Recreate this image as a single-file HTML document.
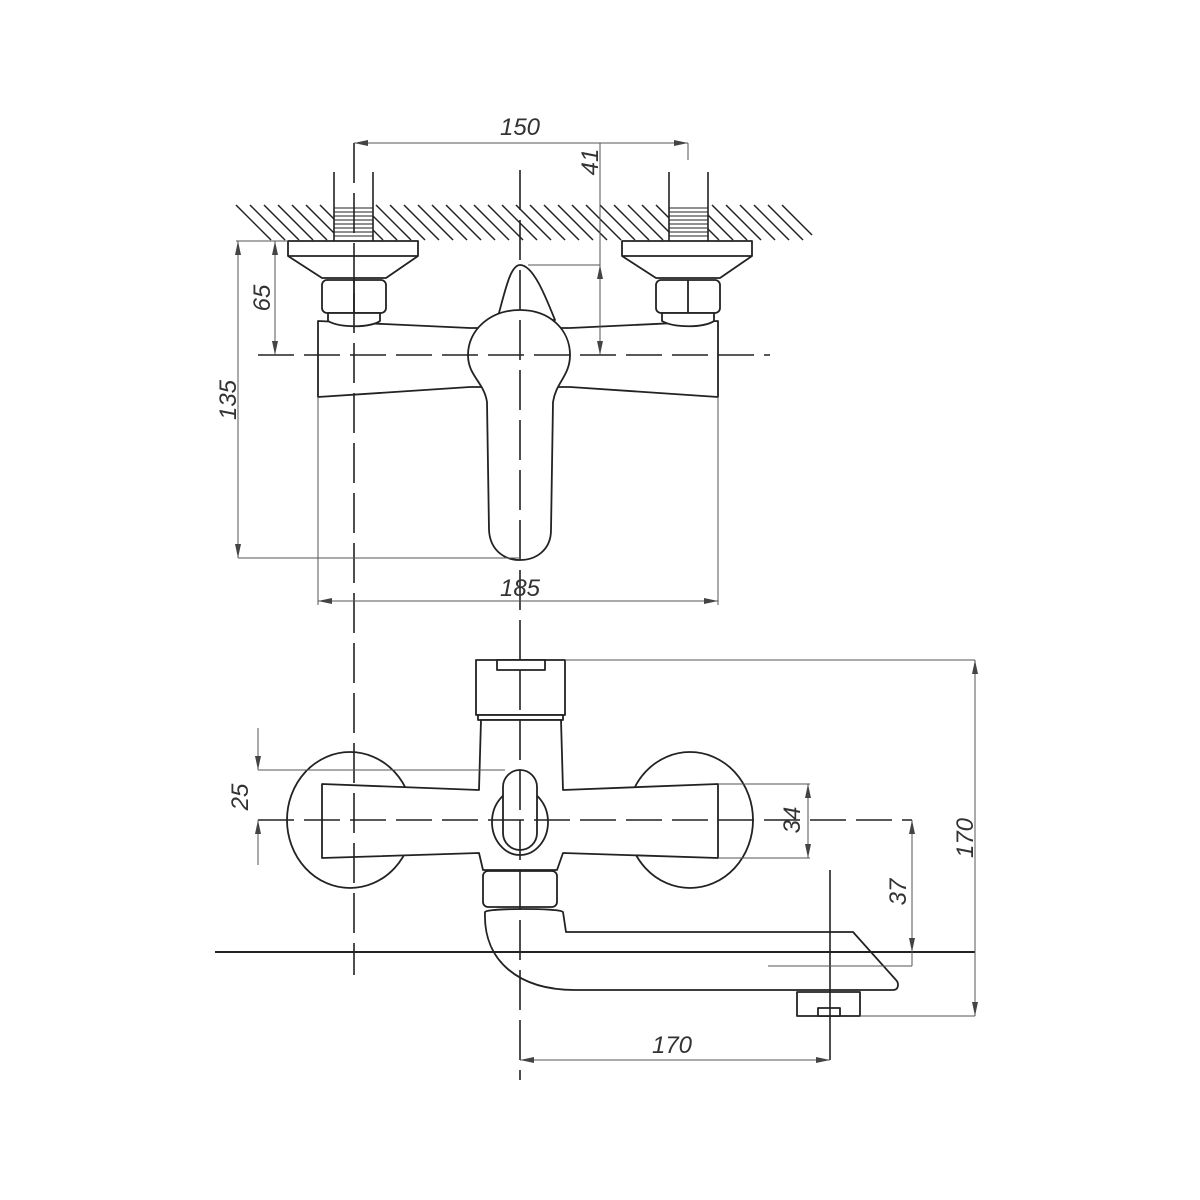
<!DOCTYPE html>
<html><head><meta charset="utf-8"><style>
html,body{margin:0;padding:0;background:#fff;}
svg{display:block;}
text{font-family:"Liberation Sans",sans-serif;font-style:italic;font-size:24px;fill:#333;}
</style></head><body>
<svg width="1200" height="1200" viewBox="0 0 1200 1200" xmlns="http://www.w3.org/2000/svg">
<defs>
<marker id="a" viewBox="0 0 14 6" refX="14" refY="3" markerWidth="14" markerHeight="6" orient="auto-start-reverse" markerUnits="userSpaceOnUse"><path d="M0,0 L14,3 L0,6 Z" fill="#444"/></marker>
</defs>
<rect width="1200" height="1200" fill="#fff"/>
<g stroke="#222" stroke-width="1.5">
<line x1="236" y1="205" x2="271" y2="240"/><line x1="250" y1="205" x2="285" y2="240"/><line x1="264" y1="205" x2="299" y2="240"/><line x1="278" y1="205" x2="313" y2="240"/><line x1="292" y1="205" x2="327" y2="240"/><line x1="306" y1="205" x2="341" y2="240"/><line x1="320" y1="205" x2="355" y2="240"/><line x1="334" y1="205" x2="369" y2="240"/><line x1="348" y1="205" x2="383" y2="240"/><line x1="362" y1="205" x2="397" y2="240"/><line x1="376" y1="205" x2="411" y2="240"/><line x1="390" y1="205" x2="425" y2="240"/><line x1="404" y1="205" x2="439" y2="240"/><line x1="418" y1="205" x2="453" y2="240"/><line x1="432" y1="205" x2="467" y2="240"/><line x1="446" y1="205" x2="481" y2="240"/><line x1="460" y1="205" x2="495" y2="240"/><line x1="474" y1="205" x2="509" y2="240"/><line x1="488" y1="205" x2="523" y2="240"/><line x1="502" y1="205" x2="537" y2="240"/><line x1="516" y1="205" x2="551" y2="240"/><line x1="530" y1="205" x2="565" y2="240"/><line x1="544" y1="205" x2="579" y2="240"/><line x1="558" y1="205" x2="593" y2="240"/><line x1="572" y1="205" x2="607" y2="240"/><line x1="586" y1="205" x2="621" y2="240"/><line x1="600" y1="205" x2="635" y2="240"/><line x1="614" y1="205" x2="649" y2="240"/><line x1="628" y1="205" x2="663" y2="240"/><line x1="642" y1="205" x2="677" y2="240"/><line x1="656" y1="205" x2="691" y2="240"/><line x1="670" y1="205" x2="705" y2="240"/><line x1="684" y1="205" x2="719" y2="240"/><line x1="698" y1="205" x2="733" y2="240"/><line x1="712" y1="205" x2="747" y2="240"/><line x1="726" y1="205" x2="761" y2="240"/><line x1="740" y1="205" x2="775" y2="240"/><line x1="754" y1="205" x2="789" y2="240"/><line x1="768" y1="205" x2="803" y2="240"/><line x1="782" y1="205" x2="812" y2="235"/>
</g>
<g stroke="#222" stroke-width="1.6" fill="#fff">
<rect x="334" y="204" width="39" height="37" stroke="none"/>
<rect x="669" y="204" width="39" height="37" stroke="none"/>
<line x1="334" y1="172" x2="334" y2="241"/><line x1="373" y1="172" x2="373" y2="241"/>
<line x1="669" y1="172" x2="669" y2="241"/><line x1="708" y1="172" x2="708" y2="241"/>
</g>
<g stroke="#222" stroke-width="1">
<path d="M334,208H373M334,212H373M334,216H373M334,220H373M334,224H373M334,228H373M334,232H373M334,236H373"/>
<path d="M669,208H708M669,212H708M669,216H708M669,220H708M669,224H708M669,228H708M669,232H708M669,236H708"/>
</g>
<g stroke="#222" stroke-width="1.8" fill="#fff" stroke-linejoin="round">
<path d="M288,241H418V256L386,278H322L288,256Z"/><line x1="288" y1="256" x2="418" y2="256"/>
<path d="M622,241H752V256L720,278H656L622,256Z"/><line x1="622" y1="256" x2="752" y2="256"/>
<rect x="322" y="280" width="64" height="33" rx="5"/><line x1="354" y1="280" x2="354" y2="313"/>
<rect x="656" y="280" width="64" height="33" rx="5"/><line x1="688" y1="280" x2="688" y2="313"/>
<path d="M318,321 L470,328 L570,328 L718,321 L718,397 L570,387 L470,387 L318,397 Z"/>
<path d="M328,313H380V321C370,328 340,328 328,321Z"/>
<path d="M662,313H714V321C704,328 674,328 662,321Z"/>
<path d="M497,320 C505,292 510,265 520,265 C533,265 545,295 555,320 Z"/>
<path d="M520,310 C550,310 570,330 570,355 C570,376 556,382 553,402 L551,530 C551,550 536,560 520,560 C504,560 490,550 489,530 L487,402 C484,382 468,376 468,355 C468,330 490,310 520,310 Z"/>
</g>
<g stroke="#222" stroke-width="1.8" fill="#fff" stroke-linejoin="round">
<ellipse cx="350" cy="820" rx="63" ry="68"/>
<ellipse cx="690" cy="820" rx="63" ry="68"/>
<rect x="476" y="660" width="89" height="55"/>
<rect x="497" y="660" width="48" height="10"/>
<rect x="478" y="715" width="85" height="5"/>
<path d="M322,784 L479,790 L481,720 L561,720 L563,790 L718,784 L718,858 L563,853 L557,870 L483,870 L479,853 L322,858 Z"/>
<ellipse cx="520" cy="822" rx="28" ry="33"/>
<rect x="503" y="770" width="34" height="80" rx="17"/>
<rect x="483" y="871" width="74" height="36" rx="5"/>
<path d="M485,912 C483,962 520,990 575,990 L893,990 C899,990 899,983 896,980 L853,932 L566,932 L563,912 C560,908 488,908 485,912 Z"/>
<rect x="797" y="992" width="63" height="24"/>
<rect x="818" y="1008" width="22" height="8"/>
</g>
<line x1="215" y1="952" x2="975" y2="952" stroke="#222" stroke-width="2"/>
<g stroke="#222" stroke-width="1.6" fill="none">
<line x1="520" y1="170" x2="520" y2="1080" stroke-dasharray="40,10"/>
<line x1="354" y1="143" x2="354" y2="975" stroke-dasharray="40,10"/>
<line x1="258" y1="355" x2="770" y2="355" stroke-dasharray="36,10"/>
<line x1="258" y1="820" x2="912" y2="820" stroke-dasharray="36,10"/>
<line x1="830" y1="870" x2="830" y2="1060"/>
</g>
<g stroke="#555" stroke-width="1" fill="none">
<line x1="354" y1="143" x2="688" y2="143" marker-start="url(#a)" marker-end="url(#a)"/>
<line x1="688" y1="143" x2="688" y2="160"/>
<line x1="600" y1="143" x2="600" y2="265"/>
<line x1="600" y1="265" x2="600" y2="355" marker-start="url(#a)" marker-end="url(#a)"/>
<line x1="528" y1="265" x2="600" y2="265"/>
<line x1="236" y1="241" x2="288" y2="241"/>
<line x1="275" y1="241" x2="275" y2="355" marker-start="url(#a)" marker-end="url(#a)"/>
<line x1="238" y1="241" x2="238" y2="558" marker-start="url(#a)" marker-end="url(#a)"/>
<line x1="238" y1="558" x2="520" y2="558"/>
<line x1="318" y1="397" x2="318" y2="605"/><line x1="718" y1="397" x2="718" y2="605"/>
<line x1="318" y1="601" x2="718" y2="601" marker-start="url(#a)" marker-end="url(#a)"/>
<line x1="565" y1="660" x2="975" y2="660"/>
<line x1="860" y1="1016" x2="975" y2="1016"/>
<line x1="975" y1="660" x2="975" y2="1016" marker-start="url(#a)" marker-end="url(#a)"/>
<line x1="258" y1="770" x2="505" y2="770"/>
<line x1="258" y1="728" x2="258" y2="770" marker-end="url(#a)"/>
<line x1="258" y1="865" x2="258" y2="820" marker-end="url(#a)"/>
<line x1="718" y1="784" x2="810" y2="784"/><line x1="718" y1="858" x2="810" y2="858"/>
<line x1="808" y1="784" x2="808" y2="858" marker-start="url(#a)" marker-end="url(#a)"/>
<line x1="912" y1="820" x2="912" y2="952" marker-start="url(#a)" marker-end="url(#a)"/>
<line x1="912" y1="952" x2="912" y2="966"/>
<line x1="768" y1="966" x2="912" y2="966"/>
<line x1="520" y1="1060" x2="830" y2="1060" marker-start="url(#a)" marker-end="url(#a)"/>
</g>
<text x="520" y="135" text-anchor="middle">150</text>
<text x="520" y="596" text-anchor="middle">185</text>
<text x="672" y="1053" text-anchor="middle">170</text>
<text transform="translate(598,162) rotate(-90)" text-anchor="middle">41</text>
<text transform="translate(270,298) rotate(-90)" text-anchor="middle">65</text>
<text transform="translate(236,400) rotate(-90)" text-anchor="middle">135</text>
<text transform="translate(248,797) rotate(-90)" text-anchor="middle">25</text>
<text transform="translate(800,820) rotate(-90)" text-anchor="middle">34</text>
<text transform="translate(906,892) rotate(-90)" text-anchor="middle">37</text>
<text transform="translate(973,838) rotate(-90)" text-anchor="middle">170</text>
</svg>
</body></html>
